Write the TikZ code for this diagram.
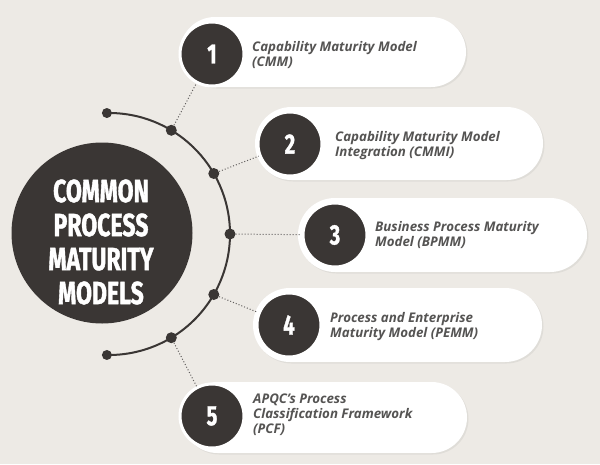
\documentclass[tikz,border=0pt]{standalone}
\usepackage{fontspec}
\setmainfont{Open Sans}
\newfontfamily\condfont{Fira Sans}[FakeStretch=0.72, FakeBold=1.2]
\usetikzlibrary{shapes.misc,shadows}
\definecolor{bg}{HTML}{EDEAE5}
\definecolor{dark}{HTML}{3A3634}
\definecolor{txt}{HTML}{555453}
\begin{document}
\begin{tikzpicture}[x=1pt,y=-1pt,
  pill/.style={rounded rectangle, fill=white, draw=none, inner sep=0pt,
    drop shadow={opacity=0.12, shadow xshift=1.5pt, shadow yshift=-1.5pt}},
  num/.style={circle, fill=dark, draw=white, line width=3pt, minimum size=64pt, inner sep=0pt,
    text=white, font=\condfont\bfseries\fontsize{28}{28}\selectfont},
  lbl/.style={anchor=west, align=left, inner sep=0pt, text=txt,
    font=\bfseries\itshape\fontsize{13.3}{15}\selectfont},
  arcline/.style={draw=dark, line width=2pt},
  conn/.style={draw=dark!80, dotted, line width=1pt},
  dot/.style={circle, fill=dark, minimum size=11pt, inner sep=0pt},
  enddot/.style={circle, fill=dark, minimum size=10pt, inner sep=0pt}]
\useasboundingbox (0,0) rectangle (600,464);
\fill[bg] (0,0) rectangle (600,464);

% central circle
\node[circle, fill=dark, minimum size=181pt, inner sep=0pt] (main) at (102,233) {};
\node[text=white, align=center, inner sep=0pt,
  font=\condfont\bfseries\fontsize{32}{34}\selectfont] (title) at (101,242)
  {COMMON\\PROCESS\\MATURITY\\MODELS};

% arc
\coordinate (ac) at (109,234);
\draw[arcline] (ac) ++(-91:121) arc[start angle=-91, end angle=91, radius=121];
\path (ac) ++(-91:121) node[enddot] (e1) {};
\path (ac) ++(91:121) node[enddot] (e2) {};
\path (ac) ++(-59:121) node[dot] (d1) {};
\path (ac) ++(-30:121) node[dot] (d2) {};
\path (ac) ++(0:121) node[dot] (d3) {};
\path (ac) ++(30:121) node[dot] (d4) {};
\path (ac) ++(59:121) node[dot] (d5) {};

% pills
\node[pill, minimum width=286pt, minimum height=70pt] (p1) at (323,52) {};
\node[pill, minimum width=288pt, minimum height=73pt] (p2) at (399,143.5) {};
\node[pill, minimum width=289pt, minimum height=74pt] (p3) at (442.5,235) {};
\node[pill, minimum width=289pt, minimum height=74pt] (p4) at (397.5,325) {};
\node[pill, minimum width=285pt, minimum height=71pt] (p5) at (324.5,417.5) {};

% number circles
\node[num] (n1) at (212,54) {1};
\node[num] (n2) at (290,144) {2};
\node[num] (n3) at (335,235) {3};
\node[num] (n4) at (289,325) {4};
\node[num] (n5) at (212,416) {5};

% connectors
\draw[conn] (d1) -- (n1);
\draw[conn] (d2) -- (n2);
\draw[conn] (d3) -- (n3);
\draw[conn] (d4) -- (n4);
\draw[conn] (d5) -- (n5);

% labels
\node[lbl] (t1) at (252,55) {Capability Maturity Model\\(CMM)};
\node[lbl] (t2) at (335,145.5) {Capability Maturity Model\\Integration (CMMI)};
\node[lbl] (t3) at (375,234.5) {Business Process Maturity\\Model (BPMM)};
\node[lbl] (t4) at (330,327) {Process and Enterprise\\Maturity Model (PEMM)};
\node[lbl] (t5) at (253,415) {APQC's Process\\Classification Framework\\(PCF)};
\end{tikzpicture}
\end{document}
